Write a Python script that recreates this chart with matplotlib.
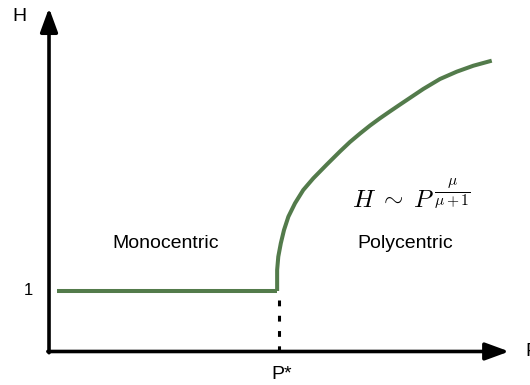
import matplotlib
matplotlib.use("Agg")
import matplotlib.pyplot as plt

plt.rcParams["font.family"] = ["Liberation Sans", "DejaVu Sans"]
plt.rcParams["mathtext.fontset"] = "cm"

# Curva H(P): tramo plano (monocéntrico) y luego crecimiento (policéntrico)
p_star = 0.996
p_flat = [0.035, 0.996]
h_flat = [1.0, 1.0]
p_poly = [0.996, 0.996, 0.996, 1.001, 1.012, 1.026, 1.045, 1.074, 1.110, 1.154,
          1.213, 1.271, 1.314, 1.358, 1.402, 1.445, 1.489, 1.533,
          1.634, 1.707, 1.780, 1.853, 1.933]
h_poly = [1.0, 1.071, 1.347, 1.567, 1.788, 2.008, 2.228, 2.450, 2.669, 2.863,
          3.091, 3.309, 3.463, 3.603, 3.736, 3.855, 3.970, 4.083,
          4.339, 4.504, 4.625, 4.724, 4.807]

VERDE = "#537b4b"

fig = plt.figure(figsize=(5.3, 3.85), dpi=100)
ax = fig.add_axes([0, 0, 1, 1])
ax.set_xlim(-0.214, 2.100)
ax.set_ylim(-0.554, 5.810)
ax.axis("off")

# Ejes con flechas
flecha = dict(arrowstyle="-|>,head_length=0.6,head_width=0.22", color="black",
              lw=2.6, shrinkA=0, shrinkB=0, mutation_scale=24)
ax.annotate("", xy=(0, 5.678), xytext=(0, -0.02), arrowprops=flecha)
ax.annotate("", xy=(2.009, 0), xytext=(-0.005, 0), arrowprops=flecha)

ax.plot(p_flat, h_flat, color=VERDE, lw=2.9, solid_capstyle="butt")
ax.plot(p_poly, h_poly, color=VERDE, lw=2.9, solid_joinstyle="round",
        solid_capstyle="butt")

# Línea punteada en P*
ax.plot([1.002, 1.002], [0.85, 0.0], color="black", lw=2.2,
        linestyle=(0, (1.9, 3.1)), dash_capstyle="butt")

ax.text(-0.127, 5.529, "H", fontsize=14, ha="center", va="center")
ax.text(2.079, 0, "P", fontsize=14, ha="left", va="center")
ax.text(-0.092, 1.0, "1", fontsize=12, ha="center", va="center")
ax.text(1.017, -0.388, "P*", fontsize=14, ha="center", va="center")
ax.text(0.511, 1.793, "Monocentric", fontsize=14, ha="center", va="center")
ax.text(1.555, 1.793, "Polycentric", fontsize=14, ha="center", va="center")
ax.text(1.325, 2.388, r"$H\;\sim\;P$", fontsize=18, ha="left", va="baseline")
ax.text(1.680, 2.60, r"$\frac{\mu}{\mu+1}$", fontsize=16, ha="left", va="center")

fig.savefig("out.png", dpi=100)
